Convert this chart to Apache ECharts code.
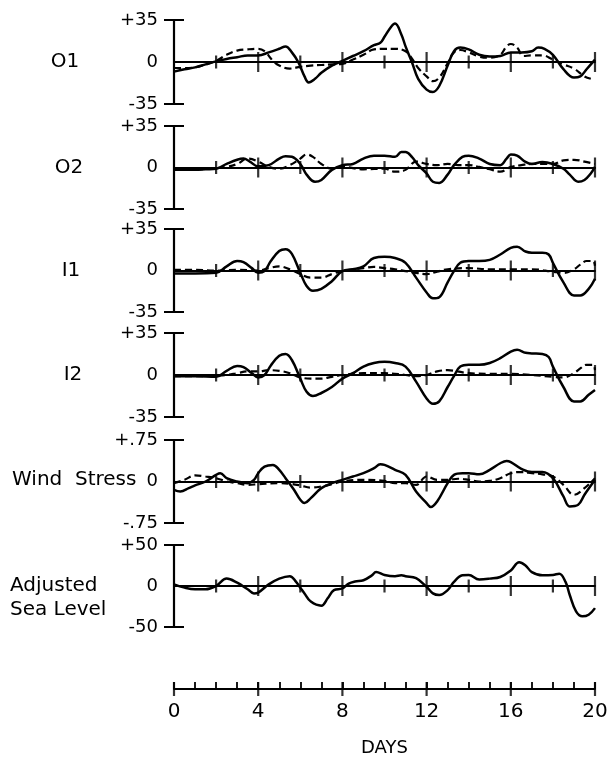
<!DOCTYPE html>
<html>
<head>
<meta charset="utf-8">
<script src="https://cdn.jsdelivr.net/npm/echarts@6/dist/echarts.min.js"></script>
<style>
html,body{margin:0;padding:0;background:#fff;}
#chart{width:613px;height:759px;}
</style>
</head>
<body>
<div id="chart"></div>
<script>
// ---------- data (day, value) ----------
const panelNames = ['O1', 'O2', 'I1', 'I2', 'Wind  Stress', 'Adjusted\nSea Level'];
const panelLimits = [35, 35, 35, 35, 0.75, 50];
const zeroTickDays = [2, 4, 6, 8, 10, 12, 14, 16, 18, 20];
const bottomBigTicks = [0, 4, 8, 12, 16, 20];

const o1Solid = [[0,-8],[0.5,-6],[1,-4.5],[1.5,-2],[2,0.5],[2.5,2.5],[3,4],[3.5,5.5],[4,5.5],[4.5,8],[5,11],[5.3,13],[5.6,8],[5.9,0],[6.2,-12],[6.4,-17],[6.7,-14],[7,-9],[7.5,-3],[8,1],[8.5,5],[9,9],[9.5,14],[9.8,16],[10,21],[10.3,29],[10.5,32],[10.8,23],[11,13],[11.3,0],[11.6,-14],[12,-23],[12.3,-25],[12.6,-20],[13,-3],[13.3,9],[13.6,12],[14,10.5],[14.5,6],[15,4.5],[15.5,5],[16,8],[16.5,8],[17,9],[17.3,12],[17.6,11],[18,6],[18.5,-6],[19,-13],[19.3,-12],[19.6,-6],[20,2]];
const o1Dashed = [[0,-5],[0.5,-5],[1,-4.5],[1.5,-2],[2,1],[2.5,6],[3,9.5],[3.5,10.5],[4,11],[4.3,9],[4.7,1],[5,-3],[5.5,-5.5],[6,-4],[6.5,-3],[7,-2.5],[7.5,-2],[8,-1.5],[8.5,2],[9,6],[9.5,10.5],[10,11],[10.5,11],[11,9],[11.3,3],[11.6,-5],[12,-12],[12.3,-16],[12.6,-13],[13,-1],[13.3,8],[13.6,10],[14,8],[14.5,4.5],[15,3.5],[15.5,6],[15.8,13],[16,15],[16.3,12],[16.6,5],[17,5.5],[17.5,5.5],[18,2],[18.5,-2],[19,-5.5],[19.5,-12],[19.8,-14]];

const o2Solid = [[0,-2],[1,-2],[1.5,-1.5],[2,-1],[2.5,3],[3,6.5],[3.3,7.5],[3.6,5],[4,1],[4.5,2],[5,7.5],[5.3,9.5],[5.6,9],[6,3],[6.3,-6],[6.7,-12],[7,-10.5],[7.5,-2],[8,2],[8.5,3],[9,7.5],[9.5,10],[10,10],[10.5,9],[10.8,13],[11,13],[11.3,9],[11.6,2],[12,-5],[12.3,-12],[12.6,-13],[13,-6],[13.3,2],[13.7,9],[14,10],[14.5,7.5],[15,3],[15.5,2],[15.8,7.5],[16,11],[16.3,10],[16.7,4.7],[17,3],[17.5,4.7],[18,3],[18.5,-1],[18.8,-6],[19.2,-12],[19.5,-10.5],[19.8,-5],[20,0.5]];
const o2Dashed = [[0,-1.5],[1,-1.5],[2,-0.5],[2.5,0.5],[3,3],[3.5,7.5],[4,5],[4.5,0.5],[5,-1],[5.5,2],[6,7.5],[6.3,11],[6.6,9],[7,3],[7.5,-1],[8,0.5],[9,-1.5],[10,-1],[10.5,-3.5],[11,-2],[11.5,5],[12,3],[12.5,2],[13,3],[13.5,2],[14,2],[14.5,0.5],[15,-1.5],[15.5,-3.5],[16,0.5],[16.5,2],[17,3],[17.5,3],[18,3],[18.5,6],[19,6.5],[19.5,5],[20,3]];

const i1Solid = [[0,-2.5],[1,-2.5],[2,-2],[2.5,3.5],[3,8],[3.3,7],[3.7,2],[4,-2],[4.3,-0.5],[4.6,8],[5,16.5],[5.3,18],[5.6,14],[6,-2],[6.3,-13],[6.6,-17],[7,-15.5],[7.5,-9],[8,-0.5],[8.5,1],[9,3.5],[9.5,10.5],[10,11.5],[10.5,10.5],[11,6.5],[11.5,-6],[12,-18.5],[12.3,-23.5],[12.6,-22.5],[13,-10],[13.3,-0.5],[13.6,6.5],[14,8],[14.5,8],[15,9],[15.5,13.5],[16,19],[16.3,20],[16.7,16],[17,15],[17.5,15],[17.8,13.5],[18,6.5],[18.5,-10],[19,-21],[19.3,-21],[19.7,-15.5],[20,-7]];
const i1Dashed = [[0,0.5],[1,0.5],[2,0],[3,0.5],[4,0],[4.5,2],[5,3.5],[5.5,1],[6,-3],[6.5,-6],[7,-6],[7.5,-3],[8,-0.5],[9,2],[9.5,3],[10,2],[10.5,1],[11,-0.5],[11.5,-2],[12,-3],[12.5,-1],[13,1],[14,2],[15,1],[16,1],[17,1],[18,-1],[18.5,-2],[19,1],[19.3,5],[19.6,8],[19.9,8],[20,4]];

const i2Solid = [[0,-1],[1,-1],[2,-1.5],[2.5,3.5],[3,7.5],[3.3,6.5],[3.7,1.5],[4,-2],[4.3,0],[4.6,8],[5,16],[5.3,17.5],[5.6,12.5],[6,-3],[6.3,-14],[6.6,-17.5],[7,-15],[7.5,-10],[8,-3],[8.5,1.5],[9,7],[9.5,10],[10,11],[10.5,10],[11,7],[11.5,-5.5],[12,-19.5],[12.3,-24],[12.6,-22],[13,-10],[13.3,-1],[13.6,7],[14,8.5],[14.5,8.5],[15,10],[15.5,14],[16,19.5],[16.3,21],[16.7,18.5],[17,18],[17.5,17.5],[17.8,15],[18,7],[18.5,-10],[19,-22],[19.3,-22],[19.7,-16.5],[20,-12.5]];
const i2Dashed = [[0,-1],[1,-1],[2,-0.5],[2.5,0],[3,1.5],[3.5,3],[4,3],[4.5,4],[5,3.5],[5.5,1.5],[6,-2],[6.5,-3],[7,-3],[7.5,-1.5],[8,0],[9,1.5],[10,1.5],[11,0],[11.5,-1],[12,0],[12.5,3],[13,4],[14,1.5],[15,1],[16,1],[17,0],[18,-1.5],[18.5,-2],[19,1.5],[19.3,5.5],[19.6,8.5],[19.9,8.5],[20,4]];

const windSolid = [[0,-0.15],[0.3,-0.18],[0.7,-0.12],[1,-0.07],[1.5,0],[2,0.12],[2.2,0.15],[2.5,0.06],[3,0],[3.5,-0.03],[3.8,0.03],[4,0.15],[4.3,0.27],[4.7,0.3],[5,0.21],[5.3,0.06],[5.7,-0.15],[6,-0.33],[6.2,-0.39],[6.5,-0.3],[7,-0.12],[7.5,-0.03],[8,0.03],[8.5,0.09],[9,0.15],[9.5,0.24],[9.8,0.31],[10,0.3],[10.5,0.21],[11,0.12],[11.5,-0.18],[12,-0.39],[12.2,-0.46],[12.5,-0.36],[13,-0.03],[13.3,0.12],[13.7,0.15],[14,0.15],[14.5,0.13],[15,0.21],[15.5,0.33],[15.8,0.37],[16,0.35],[16.5,0.23],[17,0.17],[17.5,0.17],[18,0.06],[18.5,-0.27],[18.8,-0.45],[19.2,-0.42],[19.5,-0.24],[20,0.03]];
const windDashed = [[0,-0.03],[0.5,0.03],[1,0.11],[1.5,0.09],[2,0.06],[2.5,0],[3,-0.03],[3.5,-0.06],[4,-0.05],[5,-0.03],[5.5,-0.04],[6,-0.07],[6.5,-0.11],[7,-0.09],[7.5,-0.05],[8,0],[9,0.03],[10,0.01],[10.5,-0.03],[11,-0.03],[11.5,-0.06],[12,0.09],[12.5,0.03],[13,0.03],[13.5,0.05],[14,0.03],[14.5,0],[15,0.01],[15.5,0.06],[16,0.15],[16.5,0.17],[17,0.15],[17.5,0.13],[18,0.09],[18.5,-0.06],[19,-0.24],[19.5,-0.12],[20,0.06]];

const seaSolid = [[0,2],[0.5,-2],[1,-4],[1.5,-4],[2,0],[2.5,9],[3,4],[3.5,-4],[3.8,-9],[4,-8],[4.5,2],[5,9],[5.5,12],[5.8,5],[6,-2],[6.2,-9],[6.5,-19],[7,-24],[7.3,-15],[7.6,-5],[8,-3],[8.3,3],[8.6,5.5],[9,7],[9.4,13],[9.6,17],[10,13.5],[10.5,12],[10.8,13],[11,12],[11.5,9.5],[12,-1],[12.3,-9],[12.6,-11],[13,-5],[13.3,5],[13.7,13],[14,13.5],[14.5,8],[15,9],[15.5,11],[16,19],[16.4,29],[16.7,25],[17,17],[17.5,13],[18,13.5],[18.3,15],[18.6,5],[18.8,-11],[19.1,-31],[19.4,-37],[19.7,-35],[20,-27]];

const solidSeries = [o1Solid, o2Solid, i1Solid, i2Solid, windSolid, seaSolid];
const dashedSeries = [o1Dashed, o2Dashed, i1Dashed, i2Dashed, windDashed, null];

// ---------- layout ----------
const FONT = 'DejaVu Sans';
const panelTops = [20, 126, 229, 333, 440, 545];
const panelHeights = [84, 83, 83, 84, 83, 82];
const labelPos = [
  {x: 65, y: 62, align: 'center'},
  {x: 69, y: 168, align: 'center'},
  {x: 71, y: 271, align: 'center'},
  {x: 73, y: 375, align: 'center'},
  {x: 12, y: 480, align: 'left'},
  {x: 10, y: 598, align: 'left'}
];

function fmtVal(v) {
  if (v === 0) return '0';
  let a = Math.abs(v);
  let s = String(a);
  if (a < 1) s = s.replace(/^0/, '');
  return (v > 0 ? '+' : '-') + s;
}

const grid = [], xAxis = [], yAxis = [], series = [], graphic = [];
for (let i = 0; i < 6; i++) {
  const L = panelLimits[i];
  grid.push({left: 174, right: 18, top: panelTops[i], height: panelHeights[i]});
  xAxis.push({
    type: 'value', gridIndex: i, min: 0, max: 20, interval: 2,
    axisLine: {show: true, onZero: true, lineStyle: {color: '#000', width: 1.8}},
    axisTick: {show: false}, axisLabel: {show: false}, splitLine: {show: false}
  });
  yAxis.push({
    type: 'value', gridIndex: i, min: -L, max: L, position: 'left',
    axisLine: {show: true, onZero: false, lineStyle: {color: '#000', width: 2.2}},
    axisTick: {show: true, inside: false, length: 10, customValues: [-L, L], lineStyle: {color: '#000', width: 2}},
    axisLabel: {show: true, customValues: [-L, 0, L], margin: 16, formatter: fmtVal,
      color: '#000', fontFamily: FONT, fontSize: 18},
    splitLine: {show: false}
  });
  yAxis.push({
    type: 'value', gridIndex: i, min: -L, max: L, position: 'left', offset: 0,
    axisLine: {show: false, onZero: false},
    axisTick: {show: true, inside: true, length: 10, customValues: [-L, L], lineStyle: {color: '#000', width: 2}},
    axisLabel: {show: false}, splitLine: {show: false}
  });
  series.push({
    type: 'line', xAxisIndex: i, yAxisIndex: 2 * i, data: solidSeries[i],
    smooth: 0.4, showSymbol: false, symbol: 'none',
    lineStyle: {color: '#000', width: 2.5}, z: 5
  });
  if (dashedSeries[i]) {
    series.push({
      type: 'line', xAxisIndex: i, yAxisIndex: 2 * i, data: dashedSeries[i],
      smooth: 0.4, showSymbol: false, symbol: 'none',
      lineStyle: {color: '#000', width: 2.2, type: [7, 4]}, z: 4
    });
  }
  series.push({
    type: 'scatter', xAxisIndex: i, yAxisIndex: 2 * i,
    data: zeroTickDays.map(d => [d, 0]),
    symbol: 'rect',
    symbolSize: (val) => (val[0] % 4 === 0 ? [2.2, 20] : [2.2, 13]),
    itemStyle: {color: '#000'}, z: 3, silent: true
  });
  graphic.push({
    type: 'text', x: labelPos[i].x, y: labelPos[i].y,
    style: {
      text: panelNames[i], fill: '#000', font: '20px "' + FONT + '"',
      align: labelPos[i].align, verticalAlign: 'middle', lineHeight: 24
    }
  });
}

// bottom DAYS axis
grid.push({left: 174, right: 18, top: 688, height: 1});
xAxis.push({
  type: 'value', gridIndex: 6, min: 0, max: 20, interval: 1,
  axisLine: {show: true, onZero: false, lineStyle: {color: '#000', width: 1.8}},
  axisTick: {show: true, inside: true, length: 7, lineStyle: {color: '#000', width: 1.8}},
  axisLabel: {show: true, margin: 13, color: '#000', fontFamily: FONT, fontSize: 20,
    formatter: v => (v % 4 === 0 ? String(v) : '')},
  splitLine: {show: false},
  name: 'DAYS', nameLocation: 'middle', nameGap: 50,
  nameTextStyle: {color: '#000', fontFamily: FONT, fontSize: 18}
});
yAxis.push({type: 'value', gridIndex: 6, min: 0, max: 1, show: false});
series.push({
  type: 'scatter', xAxisIndex: 6, yAxisIndex: 12,
  data: bottomBigTicks.map(d => [d, 0]),
  symbol: 'rect', symbolSize: [2.2, 14],
  itemStyle: {color: '#000'}, silent: true
});

const chart = echarts.init(document.getElementById('chart'), null, {renderer: 'canvas'});
chart.setOption({
  animation: false,
  backgroundColor: '#fff',
  grid, xAxis, yAxis, series, graphic
});
</script>
</body>
</html>
